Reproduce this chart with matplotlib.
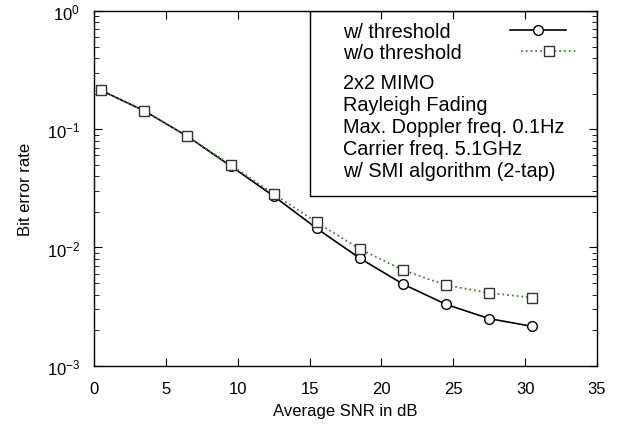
import matplotlib
matplotlib.use("Agg")
import matplotlib.pyplot as plt
from matplotlib.patches import Rectangle


# data
snr = [0.5, 3.5, 6.5, 9.5, 12.5, 15.5, 18.5, 21.5, 24.5, 27.5, 30.5]
ber_thr = [0.213, 0.143, 0.087, 0.049, 0.0272, 0.0145, 0.0081, 0.0049, 0.0033, 0.0025, 0.00215]
ber_nothr = [0.213, 0.143, 0.087, 0.050, 0.0284, 0.0163, 0.0097, 0.00643, 0.0048, 0.00412, 0.00377]

info_lines = ["2x2 MIMO", "Rayleigh Fading", "Max. Doppler freq. 0.1Hz",
              "Carrier freq. 5.1GHz", "w/ SMI algorithm (2-tap)"]


def main():
	plt.rcParams["font.family"] = ["Liberation Sans", "DejaVu Sans"]
	plt.rcParams["font.size"] = 12
	plt.rcParams["mathtext.fontset"] = "custom"
	plt.rcParams["mathtext.rm"] = "Liberation Sans"
	plt.rcParams["mathtext.it"] = "Liberation Sans:italic"
	plt.rcParams["mathtext.default"] = "regular"

	fig = plt.figure(figsize=(6.3, 4.35), dpi=100)
	ax = fig.add_axes([94 / 630, (435 - 366.7) / 435, 503 / 630, 354.7 / 435])

	ax.plot(snr, ber_thr, "-", color="black", lw=1.2, marker="o", ms=7,
		mfc="white", mec="black", mew=1.0, label="w/ threshold")
	ax.plot(snr, ber_nothr, ":", color="#3f8a2e", lw=1.3, marker="s", ms=6.5,
		mfc="white", mec="#333333", mew=1.0, label="w/o threshold")

	ax.set_yscale("log")
	ax.set_xlim(0, 35)
	ax.set_ylim(1e-3, 1)
	ax.set_xticks(range(0, 36, 5))

	ax.tick_params(which="both", direction="in", top=True, right=True)
	ax.tick_params(axis="x", which="major", pad=11)
	ax.tick_params(axis="y", which="major", pad=10)
	ax.tick_params(which="major", length=6)
	ax.tick_params(which="minor", length=3.5)
	for s in ax.spines.values():
		s.set_linewidth(1.0)

	ax.set_xlabel("Average SNR in dB", labelpad=5)
	ax.set_ylabel("Bit error rate", labelpad=10)

	# legend box in upper right
	box = Rectangle((0.429, 0.478), 0.571, 0.522, transform=ax.transAxes,
		fill=False, edgecolor="black", lw=1.0, zorder=3)
	ax.add_patch(box)

	leg = ax.legend(loc="upper left", bbox_to_anchor=(0.495, 0.97), frameon=False,
		markerfirst=False, handlelength=2.8, handletextpad=3.0,
		borderpad=0, borderaxespad=0, labelspacing=0.1, fontsize=14.3)
	# keep labels left aligned (gnuplot style key)
	for col in leg._legend_handle_box.get_children():
		col.align = "left"

	y = 0.798
	for line in info_lines:
		ax.text(0.495, y, line, transform=ax.transAxes, ha="left", va="center", fontsize=14.3)
		y -= 0.062

	plt.savefig("out.png", dpi=100)


if __name__ == "__main__":
	main()
